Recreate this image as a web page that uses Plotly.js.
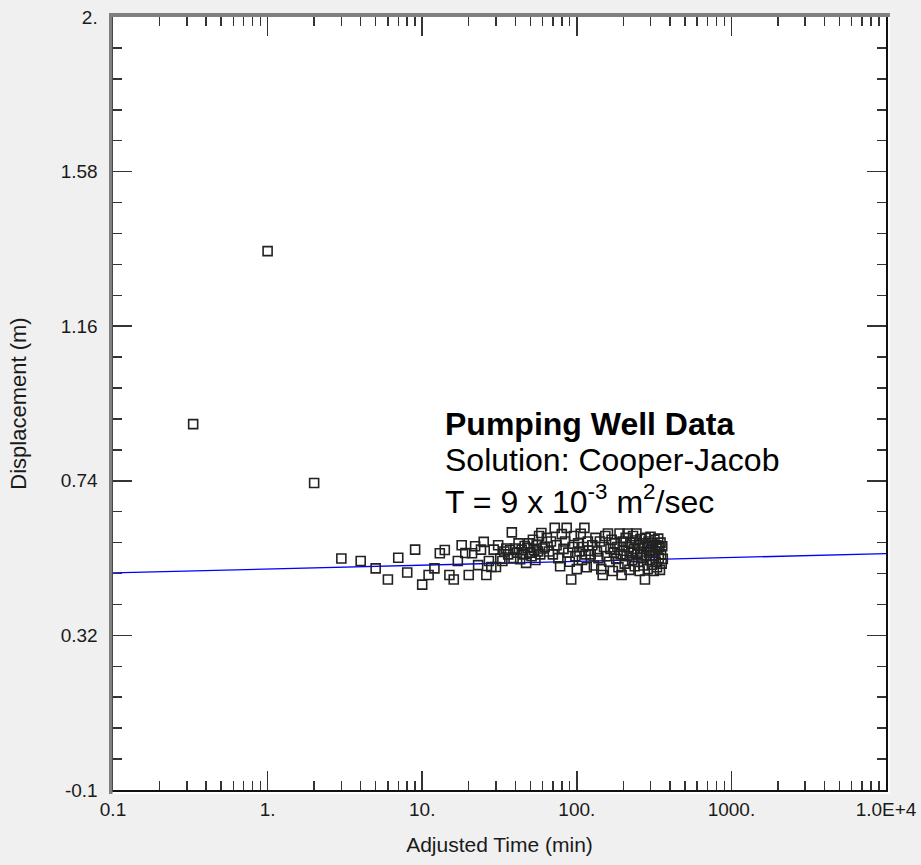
<!DOCTYPE html>
<html>
<head>
<meta charset="utf-8">
<script src="https://cdn.plot.ly/plotly-3.0.1.min.js"></script>
<style>
  html, body { margin: 0; padding: 0; background: #f0f0f0; }
  #chart { width: 921px; height: 865px; }
</style>
</head>
<body>
<div id="chart"></div>
<script>
// ---- data ----
const earlyTime = [0.33, 1, 2, 3, 4, 5, 6, 7, 8, 9, 10, 11, 12, 13, 14, 15, 16, 17, 18, 19,
  20, 21, 22, 23, 24, 25, 26, 27, 28, 29, 30, 31, 32, 33, 34, 35, 36, 37, 38, 39,
  40, 41, 42, 43, 44, 45, 46, 47, 48, 49, 50, 51, 52, 53, 54, 55, 56, 57, 58, 59, 60];
const earlyDisp = [0.894, 1.364, 0.734, 0.529, 0.522, 0.502, 0.472, 0.531, 0.491, 0.553, 0.458, 0.484, 0.502, 0.543, 0.552, 0.484, 0.472, 0.522, 0.565, 0.544,
  0.484, 0.543, 0.562, 0.511, 0.553, 0.574, 0.484, 0.522, 0.506, 0.553, 0.506, 0.565, 0.529, 0.522, 0.548, 0.556, 0.540, 0.552, 0.600, 0.530,
  0.556, 0.545, 0.570, 0.527, 0.553, 0.540, 0.563, 0.517, 0.558, 0.570, 0.545, 0.535, 0.580, 0.552, 0.525, 0.566, 0.548, 0.590, 0.540, 0.598, 0.556];

const midTime = [62, 64, 66, 68, 70, 72, 74, 76, 78, 80, 82, 84, 86, 88, 90, 92, 94, 96, 98, 100,
  102, 104, 106, 108, 110, 112, 114, 116, 118, 120];
const midDisp = [0.560, 0.585, 0.548, 0.575, 0.540, 0.612, 0.565, 0.530, 0.508, 0.595, 0.555, 0.575, 0.612, 0.545, 0.520, 0.472, 0.560, 0.590, 0.535, 0.500,
  0.570, 0.548, 0.596, 0.525, 0.560, 0.612, 0.540, 0.505, 0.575, 0.550];

const lateTime = [123, 126, 129, 132, 135, 138, 141, 144, 147, 150,
  153, 156, 159, 162, 165, 168, 171, 174, 177, 180,
  183, 186, 189, 192, 195, 198, 201, 204, 207, 210,
  213, 216, 219, 222, 225, 228, 231, 234, 237, 240,
  243, 246, 249, 252, 255, 258, 261, 264, 267, 270,
  273, 276, 279, 282, 285, 288, 291, 294, 297, 300,
  303, 306, 309, 312, 315, 318, 321, 324, 327, 330,
  333, 336, 339, 342, 345, 348, 351, 354, 357, 360];
const lateDisp = [0.540, 0.565, 0.510, 0.585, 0.548, 0.530, 0.575, 0.500, 0.484, 0.560,
  0.590, 0.535, 0.597, 0.520, 0.555, 0.580, 0.495, 0.545, 0.570, 0.528,
  0.560, 0.505, 0.597, 0.540, 0.484, 0.575, 0.550, 0.515, 0.585, 0.535,
  0.597, 0.560, 0.498, 0.572, 0.545, 0.525, 0.590, 0.555, 0.508, 0.578,
  0.597, 0.540, 0.520, 0.565, 0.495, 0.582, 0.548, 0.530, 0.570, 0.510,
  0.556, 0.472, 0.585, 0.538, 0.560, 0.500, 0.575, 0.545, 0.525, 0.588,
  0.552, 0.512, 0.570, 0.535, 0.495, 0.580, 0.548, 0.520, 0.565, 0.505,
  0.556, 0.583, 0.530, 0.560, 0.498, 0.572, 0.540, 0.515, 0.562, 0.528];

// Cooper-Jacob fitted straight line (end points)
const fitTime = [0.1, 10000];
const fitDisp = [0.490, 0.542];

// tick labels
const xTickVals = [0.1, 1, 10, 100, 1000, 10000];
const xTickText = ['0.1', '1.', '10.', '100.', '1000.', '1.0E+4'];
const yTickVals = [-0.1, 0.32, 0.74, 1.16, 1.58, 2.0];
const yTickText = ['-0.1', '0.32', '0.74', '1.16', '1.58', '2.'];

// ---- build ----
const obsTime = earlyTime.concat(midTime, lateTime);
const obsDisp = earlyDisp.concat(midDisp, lateDisp);

const xMinor = [];
for (let d = 0.1; d < 9999; d *= 10) {
  for (let k = 2; k <= 9; k++) xMinor.push(+(d * k).toPrecision(3));
}

const W = 921, H = 865;
const L = 113, R = 886, T = 17, B = 790;
const pw = R - L, ph = B - T;
const px = v => (v - L) / pw;
const py = v => (B - v) / ph;

const font = 'Arial, "Liberation Sans", sans-serif';

const traces = [
  {
    x: fitTime, y: fitDisp, type: 'scatter', mode: 'lines',
    line: { color: '#0000ff', width: 1.3 }, hoverinfo: 'skip', showlegend: false
  },
  {
    x: obsTime, y: obsDisp, type: 'scatter', mode: 'markers',
    marker: { symbol: 'square-open', size: 9, color: '#222', line: { width: 1.6, color: '#222' } },
    showlegend: false
  }
];

const axisCommon = {
  showgrid: false, zeroline: false,
  showline: true, linecolor: '#111', linewidth: 1.5,
  mirror: 'allticks',
  ticks: 'inside', ticklen: 19, tickwidth: 1.5, tickcolor: '#333',
  tickfont: { family: font, size: 19, color: '#1a1a1a' },
  tickmode: 'array'
};

const layout = {
  width: W, height: H,
  margin: { l: L, r: W - R, t: T, b: H - B, pad: 0 },
  paper_bgcolor: '#f0f0f0',
  plot_bgcolor: '#ffffff',
  font: { family: font, color: '#222' },
  xaxis: Object.assign({}, axisCommon, {
    type: 'log', range: [-1, 4],
    tickvals: xTickVals, ticktext: xTickText,
    ticklabelstandoff: 2,
    minor: { tickmode: 'array', tickvals: xMinor, ticks: 'inside', ticklen: 9, tickwidth: 1.5, tickcolor: '#333', showgrid: false },
    title: { text: 'Adjusted Time (min)', font: { family: font, size: 21, color: '#1a1a1a' }, standoff: 18 }
  }),
  yaxis: Object.assign({}, axisCommon, {
    range: [-0.1, 2.0],
    tickvals: yTickVals, ticktext: yTickText,
    ticklabelstandoff: 10,
    minor: { tickmode: 'linear', tick0: -0.1, dtick: 0.084, ticks: 'inside', ticklen: 9, tickwidth: 1.5, tickcolor: '#333', showgrid: false },
    title: { text: 'Displacement (m)', font: { family: font, size: 22, color: '#1a1a1a' }, standoff: 28 }
  }),
  shapes: [
    { type: 'rect', xref: 'paper', yref: 'paper', layer: 'below',
      x0: px(L), x1: px(890), y0: py(794), y1: py(T), fillcolor: '#ffffff', line: { width: 0 } },
    { type: 'rect', xref: 'paper', yref: 'paper', layer: 'above',
      x0: px(109), x1: px(890), y0: py(T), y1: py(13), fillcolor: '#808080', line: { width: 0 } },
    { type: 'rect', xref: 'paper', yref: 'paper', layer: 'above',
      x0: px(109), x1: px(L - 0.5), y0: py(794), y1: py(13), fillcolor: '#808080', line: { width: 0 } }
  ],
  annotations: [
    { text: '<b>Pumping Well Data</b>', xref: 'paper', yref: 'paper', x: px(443), y: py(424),
      xanchor: 'left', yanchor: 'middle', showarrow: false, font: { family: font, size: 32, color: '#000' } },
    { text: 'Solution: Cooper-Jacob<br>T = 9 x 10<sup>-3</sup> m<sup>2</sup>/sec', xref: 'paper', yref: 'paper',
      x: px(443), y: py(481), align: 'left',
      xanchor: 'left', yanchor: 'middle', showarrow: false, font: { family: font, size: 32, color: '#000' } }
  ]
};

Plotly.newPlot('chart', traces, layout, { displayModeBar: false, staticPlot: true });
</script>
</body>
</html>
